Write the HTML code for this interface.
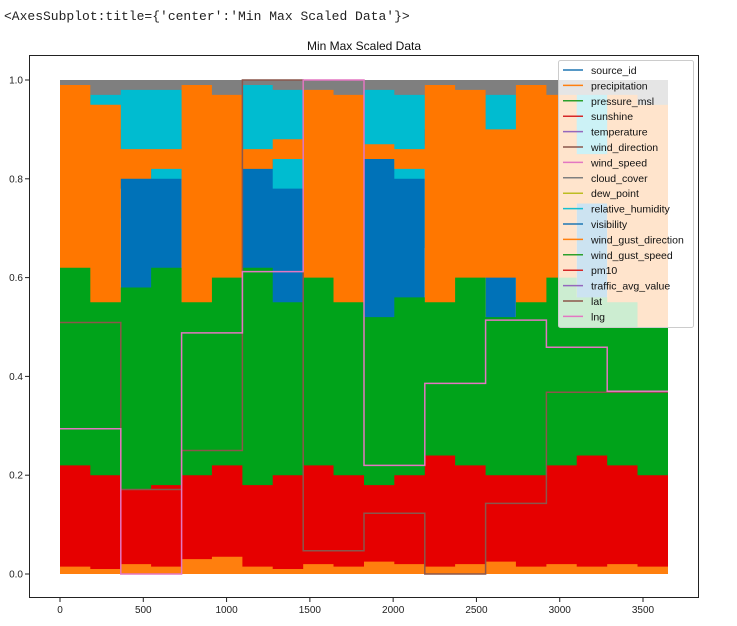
<!DOCTYPE html>
<html><head><meta charset="utf-8"><style>
body{margin:0;background:#fff;width:737px;height:626px;overflow:hidden;font-family:"Liberation Sans",sans-serif}
#hdr{position:absolute;left:4px;top:9px;font-family:"Liberation Mono",monospace;font-size:13px;color:#222;white-space:pre}
</style></head><body>
<div id="hdr">&lt;AxesSubplot:title={'center':'Min Max Scaled Data'}&gt;</div>
<svg id="chart" width="737" height="626" style="position:absolute;left:0;top:0"></svg>
<script>
const binStarts=[0,182,365,547,730,912,1095,1277,1460,1642,1825,2007,2190,2372,2555,2737,2920,3102,3285,3467];
const xEnd=3650;
const grayLo=[0.86,0.84,0.87,0.9,0.85,0.86,0.84,0.85,0.86,0.88,0.85,0.87,0.86,0.85,0.84,0.86,0.87,0.86,0.85,0.86];
const grayHi=[1,1,1,1,1,1,1,1,1,1,1,1,1,1,1,1,1,1,1,1];
const cyanLo=[0.9,0.85,0.72,0.76,0.9,0.9,0.68,0.62,0.85,0.9,0.62,0.66,0.9,0.88,0.75,0.9,0.9,0.78,0.88,0.9];
const cyanHi=[0.95,0.97,0.98,0.98,0.97,0.96,0.99,0.98,0.97,0.96,0.98,0.97,0.96,0.96,0.97,0.96,0.96,0.97,0.96,0.95];
const blueLo=[0.8,0.78,0.45,0.42,0.8,0.8,0.5,0.45,0.8,0.82,0.38,0.45,0.8,0.8,0.48,0.8,0.8,0.5,0.8,0.8];
const blueHi=[0.9,0.9,0.85,0.8,0.9,0.9,0.85,0.78,0.9,0.9,0.85,0.8,0.9,0.9,0.85,0.9,0.9,0.85,0.9,0.9];
const orangeLo=[0.42,0.36,0.8,0.82,0.5,0.48,0.82,0.84,0.45,0.5,0.84,0.82,0.5,0.45,0.6,0.48,0.5,0.75,0.48,0.5];
const orangeHi=[0.99,0.95,0.86,0.86,0.99,0.97,0.86,0.88,0.98,0.97,0.87,0.86,0.99,0.98,0.9,0.99,0.97,0.85,0.97,0.95];
const greenLo=[0.15,0.14,0.12,0.14,0.15,0.15,0.14,0.15,0.15,0.14,0.14,0.15,0.16,0.15,0.15,0.15,0.15,0.16,0.15,0.15];
const greenHi=[0.62,0.55,0.58,0.62,0.55,0.6,0.62,0.55,0.6,0.55,0.52,0.56,0.55,0.6,0.52,0.55,0.6,0.56,0.55,0.5];
const redHi=[0.22,0.2,0.17,0.18,0.2,0.22,0.18,0.2,0.22,0.2,0.18,0.2,0.24,0.22,0.2,0.2,0.22,0.24,0.22,0.2];
const precipHi=[0.015,0.01,0.02,0.015,0.03,0.035,0.015,0.01,0.02,0.015,0.025,0.02,0.015,0.02,0.025,0.015,0.02,0.015,0.02,0.015];
const stepStarts=[0,365,730,1095,1460,1825,2190,2555,2920,3285];
const latVals=[0.509,0.171,0.25,1.0,0.047,0.123,0.0,0.143,0.368,0.368];
const lngVals=[0.294,0.0,0.488,0.612,1.0,0.22,0.386,0.514,0.459,0.37];
const xTicks=[0,500,1000,1500,2000,2500,3000,3500];
const yTicks=[0,0.2,0.4,0.6,0.8,1.0];
const legendLabels=["source_id","precipitation","pressure_msl","sunshine","temperature","wind_direction","wind_speed","cloud_cover","dew_point","relative_humidity","visibility","wind_gust_direction","wind_gust_speed","pm10","traffic_avg_value","lat","lng"];
const legendColors=["#1f77b4","#ff7f0e","#2ca02c","#d62728","#9467bd","#8c564b","#e377c2","#7f7f7f","#bcbd22","#17becf","#1f77b4","#ff7f0e","#2ca02c","#d62728","#9467bd","#8c564b","#e377c2"];

const NS="http://www.w3.org/2000/svg";
const svg=document.getElementById('chart');
const X0=60,X1=668,Y0=574,Y1=80;
const xs=d=>X0+(d/3650)*(X1-X0);
const ys=v=>Y0-v*(Y0-Y1);
function mk(tag,attrs,parent){const e=document.createElementNS(NS,tag);for(const k in attrs)e.setAttribute(k,attrs[k]);(parent||svg).appendChild(e);return e;}
function band(lo,hi,color,name){
  let top=[],bot=[];
  for(let i=0;i<binStarts.length;i++){
    const a=xs(binStarts[i]),b=xs(i+1<binStarts.length?binStarts[i+1]:xEnd);
    const l=lo?lo[i]:0;
    top.push(a+","+ys(hi[i]),b+","+ys(hi[i]));
    bot.unshift(b+","+ys(l),a+","+ys(l));
  }
  const p=mk('polygon',{points:top.concat(bot).join(' '),fill:color});
  
  
}
function step(vals,color,name){
  let pts=[];
  for(let i=0;i<stepStarts.length;i++){
    const a=xs(stepStarts[i]),b=xs(i+1<stepStarts.length?stepStarts[i+1]:xEnd);
    pts.push(a+","+ys(vals[i]),b+","+ys(vals[i]));
  }
  const p=mk('polyline',{points:pts.join(' '),fill:'none',stroke:color,'stroke-width':1.5});
  
  
}
band(grayLo,grayHi,'#7f7f7f','cloud-cover-series');
band(cyanLo,cyanHi,'#00bcd0','relative-humidity-series');
band(blueLo,blueHi,'#0072b8','visibility-series');
band(orangeLo,orangeHi,'#ff7700','wind-gust-direction-series');
band(greenLo,greenHi,'#00a31a','wind-gust-speed-series');
band(null,redHi,'#e60000','pm10-series');
band(null,precipHi,'#ff7f0e','precipitation-series');
step(latVals,'#8c564b','lat-series');
step(lngVals,'#e377c2','lng-series');

const fr=mk('rect',{x:29.5,y:55.5,width:669,height:542,fill:'none',stroke:'#222','stroke-width':1});


xTicks.forEach(t=>{
  const x=xs(t);
  mk('line',{x1:x,x2:x,y1:598,y2:602,stroke:'#222'});
  const tx=mk('text',{x:x,y:613,'font-size':10,'text-anchor':'middle',fill:'#222'});
  tx.textContent=t;
  
  
});
yTicks.forEach(t=>{
  const y=ys(t);
  mk('line',{x1:25,x2:29,y1:y,y2:y,stroke:'#222'});
  const tx=mk('text',{x:23,y:y+3.5,'font-size':10,'text-anchor':'end',fill:'#222'});
  tx.textContent=t.toFixed(1);
  
  
});
const title=mk('text',{x:364,y:50,'font-size':12,'text-anchor':'middle',fill:'#111'});
title.textContent='Min Max Scaled Data';



const lg=mk('g',{});


mk('rect',{x:558.5,y:60.5,width:135,height:267,rx:2,fill:'rgba(255,255,255,0.8)',stroke:'#ccc'},lg);
legendLabels.forEach((l,i)=>{
  const y=70+i*15.4;
  const g=mk('g',{},lg);
  
  
  mk('line',{x1:563,x2:583,y1:y,y2:y,stroke:legendColors[i],'stroke-width':1.5},g);
  const t=mk('text',{x:591,y:y+4,'font-size':10.5,fill:'#111'},g);
  t.textContent=l;
});
</script>
</body></html>
